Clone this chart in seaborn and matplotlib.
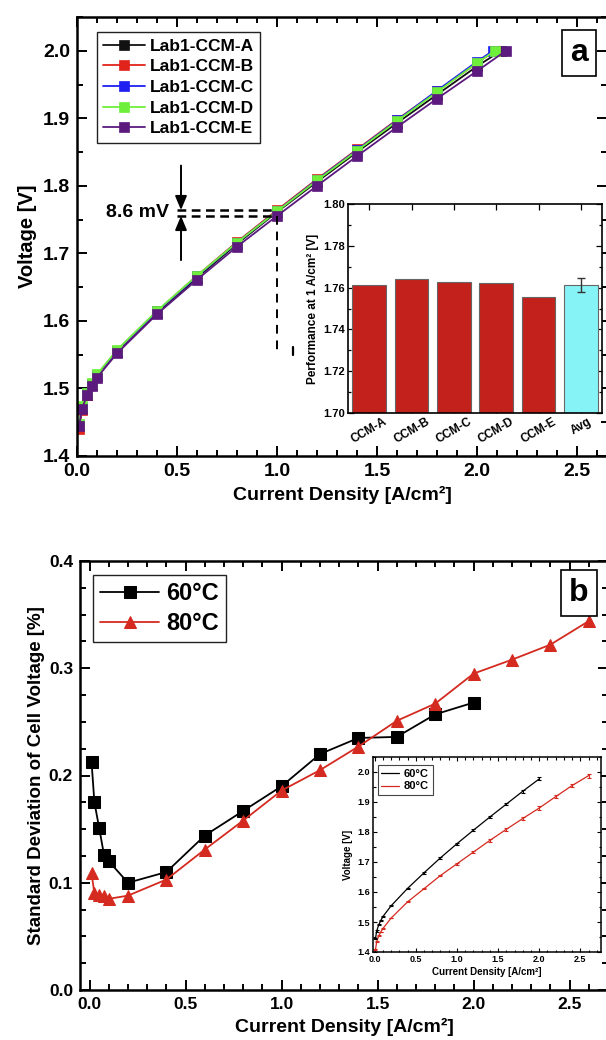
import numpy as np
import pandas as pd
import matplotlib
matplotlib.use("Agg")
import matplotlib.pyplot as plt
from matplotlib.ticker import MultipleLocator
import seaborn as sns

# ---------------- data ----------------
# (a) polarization curves of five CCMs
j_a = [0.01, 0.025, 0.05, 0.075, 0.1, 0.2, 0.4, 0.6, 0.8, 1.0, 1.2, 1.4, 1.6, 1.8, 2.0]
ccm_names = ["Lab1-CCM-A", "Lab1-CCM-B", "Lab1-CCM-C", "Lab1-CCM-D", "Lab1-CCM-E"]
v_ccm_a = [1.444, 1.470, 1.491, 1.505, 1.518, 1.554, 1.612, 1.664, 1.714, 1.7612, 1.806, 1.850, 1.893, 1.935, 1.977]
v_ccm_b = [1.440, 1.468, 1.490, 1.505, 1.519, 1.556, 1.614, 1.667, 1.717, 1.7641, 1.810, 1.854, 1.898, 1.940, 1.982]
v_ccm_c = [1.446, 1.472, 1.493, 1.507, 1.520, 1.556, 1.614, 1.666, 1.716, 1.7626, 1.809, 1.853, 1.897, 1.941, 1.984]
v_ccm_d = [1.448, 1.474, 1.494, 1.508, 1.521, 1.557, 1.615, 1.667, 1.716, 1.7623, 1.808, 1.852, 1.896, 1.939, 1.982]
v_ccm_e = [1.444, 1.470, 1.490, 1.503, 1.516, 1.552, 1.610, 1.661, 1.710, 1.7555, 1.800, 1.844, 1.887, 1.929, 1.970]
# current density at which each cell reached the 2.0 V limit
j_limit = [2.12, 2.09, 2.08, 2.09, 2.145]
v_limit = 2.0

# (a, inset) cell voltage at 1 A/cm2
bar_labels = ["CCM-A", "CCM-B", "CCM-C", "CCM-D", "CCM-E", "Avg"]
v_at_1 = [1.7612, 1.7641, 1.7626, 1.7623, 1.7555]

# (b) standard deviation of cell voltage
j_60 = [0.01, 0.025, 0.05, 0.075, 0.1, 0.2, 0.4, 0.6, 0.8, 1.0, 1.2, 1.4, 1.6, 1.8, 2.0]
sd_60 = [0.213, 0.175, 0.151, 0.126, 0.120, 0.100, 0.110, 0.144, 0.167, 0.190, 0.220, 0.235, 0.236, 0.257, 0.268]
j_80 = [0.01, 0.025, 0.05, 0.075, 0.1, 0.2, 0.4, 0.6, 0.8, 1.0, 1.2, 1.4, 1.6, 1.8, 2.0, 2.2, 2.4, 2.6]
sd_80 = [0.109, 0.090, 0.089, 0.088, 0.085, 0.088, 0.103, 0.131, 0.158, 0.186, 0.205, 0.227, 0.251, 0.267,
         0.295, 0.308, 0.322, 0.344]

# (b, inset) mean polarization curves
v_60 = [1.445, 1.470, 1.491, 1.505, 1.518, 1.554, 1.612, 1.664, 1.714, 1.761, 1.806, 1.850, 1.893, 1.936, 1.977]
v_80 = [1.407, 1.435, 1.454, 1.467, 1.478, 1.513, 1.567, 1.611, 1.655, 1.694, 1.733, 1.772, 1.809, 1.845,
        1.880, 1.918, 1.955, 1.988]

# ---------------- style ----------------
sns.set_theme(style="ticks")
plt.rcParams["font.family"] = ["Liberation Sans", "DejaVu Sans"]
plt.rcParams["font.weight"] = "bold"
plt.rcParams["axes.labelweight"] = "bold"
plt.rcParams["axes.edgecolor"] = "black"
plt.rcParams["xtick.color"] = "black"
plt.rcParams["ytick.color"] = "black"
plt.rcParams["text.color"] = "black"
plt.rcParams["axes.labelcolor"] = "black"

ccm_colors = ["#111111", "#E0241C", "#1F1FF2", "#6EF03A", "#5C1A7E"]
red_bar = "#C3221C"
cyan_bar = "#86F3F6"
c60 = "#000000"
c80 = "#D42A20"


def frame(ax, spine_w=1.8, major=7, minor=4, tick_w=1.4):
    for s in ax.spines.values():
        s.set_linewidth(spine_w)
        s.set_visible(True)
    ax.tick_params(which="both", direction="in", top=True, right=True, width=tick_w)
    ax.tick_params(which="major", length=major)
    ax.tick_params(which="minor", length=minor)


fig = plt.figure(figsize=(6.06, 10.40), dpi=100)

# ================= panel (a) =================
ax1 = fig.add_axes([77 / 606, 1 - 456 / 1040, 530 / 606, 439 / 1040])
series_v = [v_ccm_a, v_ccm_b, v_ccm_c, v_ccm_d, v_ccm_e]
for name, vv, jl, col in zip(ccm_names, series_v, j_limit, ccm_colors):
    df = pd.DataFrame({"j": j_a + [jl], "V": vv + [v_limit]})
    sns.lineplot(data=df, x="j", y="V", ax=ax1, color=col, marker="s", markersize=7.5,
                 markeredgecolor=col, markeredgewidth=0.5, linewidth=1.3, sort=False,
                 estimator=None, label=name)
ax1.set_xlim(0, 2.65)
ax1.set_ylim(1.4, 2.05)
ax1.xaxis.set_major_locator(MultipleLocator(0.5))
ax1.xaxis.set_minor_locator(MultipleLocator(0.1))
ax1.yaxis.set_major_locator(MultipleLocator(0.1))
ax1.yaxis.set_minor_locator(MultipleLocator(0.05))
frame(ax1)
ax1.tick_params(labelsize=14, pad=5)
for t in ax1.get_xticklabels() + ax1.get_yticklabels():
    t.set_fontweight("bold")
ax1.set_xlabel("Current Density [A/cm²]", fontsize=14, labelpad=4)
ax1.set_ylabel("Voltage [V]", fontsize=14.5, labelpad=4)
leg = ax1.legend(loc="upper left", bbox_to_anchor=(0.038, 0.965), fontsize=12.5,
                 handlelength=2.4, handletextpad=0.3, labelspacing=0.32, borderpad=0.35,
                 borderaxespad=0, fancybox=False, framealpha=1, edgecolor="#222222")
leg.get_frame().set_linewidth(1.0)
for t in leg.get_texts():
    t.set_fontweight("bold")
ax1.text(0.947, 0.918, "a", transform=ax1.transAxes, fontsize=23, fontweight="bold",
         ha="center", va="center",
         bbox=dict(boxstyle="square,pad=0.25", facecolor="white", edgecolor="black", linewidth=1.2))

# spread annotation at 1 A/cm2
v_hi, v_lo = max(v_at_1), min(v_at_1)
spread_mv = (v_hi - v_lo) * 1000
ax1.plot([0.5, 0.99], [v_hi, v_hi], ls=(0, (3.5, 2.2)), color="black", lw=1.8)
ax1.plot([0.5, 0.99], [v_lo, v_lo], ls=(0, (3.5, 2.2)), color="black", lw=1.8)
ax1.plot([1.0, 1.0], [v_lo, 1.55], ls=(0, (4.5, 3.5)), color="black", lw=1.4)
ax1.plot([1.08, 1.08], [1.549, 1.562], color="black", lw=1.6)
ax1.annotate("", xy=(0.52, v_hi), xytext=(0.52, 1.83),
             arrowprops=dict(arrowstyle="-|>,head_length=0.6,head_width=0.25", color="black",
                             lw=1.4, mutation_scale=14, shrinkA=0, shrinkB=0))
ax1.annotate("", xy=(0.52, v_lo), xytext=(0.52, 1.69),
             arrowprops=dict(arrowstyle="-|>,head_length=0.6,head_width=0.25", color="black",
                             lw=1.4, mutation_scale=14, shrinkA=0, shrinkB=0))
ax1.text(0.30, (v_hi + v_lo) / 2, f"{spread_mv:.1f} mV", fontsize=14, fontweight="bold",
         ha="center", va="center")

# ---------- inset (a): performance at 1 A/cm2 ----------
ax1i = fig.add_axes([348 / 606, 1 - 413 / 1040, 254 / 606, 209 / 1040])
bar_vals = v_at_1 + [float(np.mean(v_at_1))]
bar_err = float(np.std(v_at_1, ddof=1))
bdf = pd.DataFrame({"cell": bar_labels, "V": bar_vals})
sns.barplot(data=bdf, x="cell", y="V", hue="cell", ax=ax1i,
            palette=[red_bar] * 5 + [cyan_bar], width=0.8, edgecolor="#666666",
            linewidth=0.8, legend=False, saturation=1)
ax1i.errorbar([5], [bar_vals[-1]], yerr=[bar_err], fmt="none", ecolor="#333333",
              elinewidth=1.0, capsize=3, capthick=1.0)
ax1i.set_xlim(-0.5, 5.5)
ax1i.set_ylim(1.70, 1.80)
ax1i.yaxis.set_major_locator(MultipleLocator(0.02))
ax1i.yaxis.set_minor_locator(MultipleLocator(0.01))
frame(ax1i, spine_w=1.2, major=4, minor=2.5, tick_w=0.9)
ax1i.tick_params(axis="x", which="minor", bottom=False, top=False)
ax1i.tick_params(labelsize=8, pad=2)
ax1i.set_xticks(range(6))
ax1i.set_xticklabels(bar_labels, rotation=30, ha="center", fontsize=8.5, fontweight="bold")
for t in ax1i.get_yticklabels():
    t.set_fontweight("bold")
ax1i.yaxis.set_major_formatter(matplotlib.ticker.FormatStrFormatter("%.2f"))
ax1i.set_xlabel("")
ax1i.set_ylabel("Performance at 1 A/cm² [V]", fontsize=8.5, labelpad=3)

# ================= panel (b) =================
ax2 = fig.add_axes([80 / 606, 1 - 990 / 1040, 528 / 606, 429 / 1040])
df60 = pd.DataFrame({"j": j_60, "sd": sd_60})
df80 = pd.DataFrame({"j": j_80, "sd": sd_80})
sns.lineplot(data=df60, x="j", y="sd", ax=ax2, color=c60, marker="s", markersize=8,
             markeredgecolor=c60, linewidth=1.3, sort=False, estimator=None, label="60°C")
sns.lineplot(data=df80, x="j", y="sd", ax=ax2, color=c80, marker="^", markersize=9,
             markeredgecolor=c80, linewidth=1.3, sort=False, estimator=None, label="80°C")
ax2.set_xlim(-0.05, 2.7)
ax2.set_ylim(0, 0.4)
ax2.xaxis.set_major_locator(MultipleLocator(0.5))
ax2.xaxis.set_minor_locator(MultipleLocator(0.1))
ax2.yaxis.set_major_locator(MultipleLocator(0.1))
ax2.yaxis.set_minor_locator(MultipleLocator(0.025))
frame(ax2)
ax2.tick_params(labelsize=12.5, pad=5)
for t in ax2.get_xticklabels() + ax2.get_yticklabels():
    t.set_fontweight("bold")
ax2.set_xlabel("Current Density [A/cm²]", fontsize=14, labelpad=4)
ax2.set_ylabel("Standard Deviation of Cell Voltage [%]", fontsize=13.5, labelpad=3)
leg2 = ax2.legend(loc="upper left", bbox_to_anchor=(0.025, 0.967), fontsize=17,
                  handlelength=2.5, handletextpad=0.3, labelspacing=0.3, borderpad=0.3,
                  borderaxespad=0, fancybox=False, framealpha=1, edgecolor="#222222")
leg2.get_frame().set_linewidth(1.0)
for t in leg2.get_texts():
    t.set_fontweight("bold")
ax2.text(0.945, 0.925, "b", transform=ax2.transAxes, fontsize=23, fontweight="bold",
         ha="center", va="center",
         bbox=dict(boxstyle="square,pad=0.25", facecolor="white", edgecolor="black", linewidth=1.2))

# ---------- inset (b): mean polarization curves ----------
ax2i = fig.add_axes([373 / 606, 1 - 952 / 1040, 228 / 606, 195 / 1040])
err60 = np.array(v_60) * np.array(sd_60) / 100
err80 = np.array(v_80) * np.array(sd_80) / 100
sns.lineplot(x=j_60, y=v_60, ax=ax2i, color=c60, linewidth=0.9, sort=False, estimator=None,
             label="60°C")
sns.lineplot(x=j_80, y=v_80, ax=ax2i, color=c80, linewidth=0.9, sort=False, estimator=None,
             label="80°C")
ax2i.errorbar(j_60, v_60, yerr=err60, fmt="none", ecolor=c60, elinewidth=0.8, capsize=1.5,
              capthick=0.8)
ax2i.errorbar(j_80, v_80, yerr=err80, fmt="none", ecolor=c80, elinewidth=0.8, capsize=1.5,
              capthick=0.8)
ax2i.set_xlim(-0.02, 2.75)
ax2i.set_ylim(1.4, 2.05)
ax2i.xaxis.set_major_locator(MultipleLocator(0.5))
ax2i.xaxis.set_minor_locator(MultipleLocator(0.1))
ax2i.yaxis.set_major_locator(MultipleLocator(0.1))
ax2i.yaxis.set_minor_locator(MultipleLocator(0.05))
frame(ax2i, spine_w=1.1, major=3, minor=1.8, tick_w=0.8)
ax2i.tick_params(labelsize=6.5, pad=2)
for t in ax2i.get_xticklabels() + ax2i.get_yticklabels():
    t.set_fontweight("bold")
ax2i.set_xlabel("Current Density [A/cm²]", fontsize=7, labelpad=2)
ax2i.set_ylabel("Voltage [V]", fontsize=7, labelpad=3)
leg3 = ax2i.legend(loc="upper left", bbox_to_anchor=(0.02, 0.96), fontsize=8,
                   handlelength=1.6, handletextpad=0.4, labelspacing=0.25, borderpad=0.35,
                   borderaxespad=0, fancybox=False, framealpha=1, edgecolor="#444444")
leg3.get_frame().set_linewidth(0.8)
for t in leg3.get_texts():
    t.set_fontweight("bold")

fig.savefig("out.png", dpi=100)
